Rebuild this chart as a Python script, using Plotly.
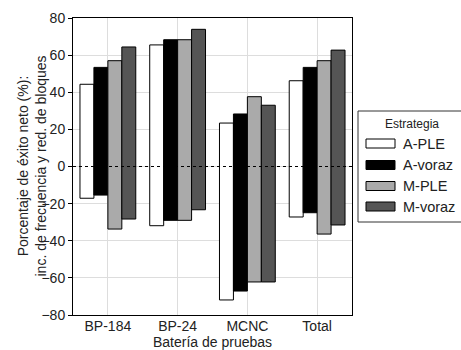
import plotly.graph_objects as go

# Benchmark suites and strategies
categories = ["BP-184", "BP-24", "MCNC", "Total"]
strategies = ["A-PLE", "A-voraz", "M-PLE", "M-voraz"]
colors = ["#ffffff", "#000000", "#aaaaaa", "#555555"]

# Upper (gain) and lower (loss) ends of each bar, in %
upper = {
    "A-PLE":   [44.3, 65.5, 23.4, 46.2],
    "A-voraz": [53.4, 68.3, 28.3, 53.4],
    "M-PLE":   [57.0, 68.3, 37.6, 57.0],
    "M-voraz": [64.4, 73.9, 33.0, 62.7],
}
lower = {
    "A-PLE":   [-17.1, -31.9, -71.9, -27.2],
    "A-voraz": [-15.4, -29.0, -67.1, -24.9],
    "M-PLE":   [-33.7, -29.0, -62.2, -36.4],
    "M-voraz": [-28.3, -23.3, -62.2, -31.5],
}

y_ticks = [-80, -60, -40, -20, 0, 20, 40, 60, 80]

FONT = "Liberation Sans, Arial, sans-serif"
TXT = "#222222"

fig = go.Figure()
for name, col in zip(strategies, colors):
    lo = lower[name]
    hi = upper[name]
    fig.add_trace(go.Bar(
        x=categories,
        y=[h - l for h, l in zip(hi, lo)],
        base=lo,
        name=name,
        marker=dict(color=col, line=dict(color="#000000", width=1)),
        showlegend=False,
    ))

W, H = 461, 350
L, R, T, B = 73, 352, 18, 315


def px(x):
    return (x - L) / (R - L)


def py(y):
    return (B - y) / (B - T)


# dotted zero line across the plot
fig.add_shape(type="line", xref="paper", yref="y", x0=0, x1=1, y0=0, y1=0,
              line=dict(color="#000000", width=1, dash="dot"), layer="above")

# axis titles
fig.add_annotation(xref="paper", yref="paper", x=px(31), y=py(166.5),
                   text="Porcentaje de éxito neto (%):<br>inc. de frecuencia y red. de bloques",
                   textangle=-90, showarrow=False,
                   font=dict(family=FONT, size=14, color=TXT),
                   xanchor="center", yanchor="middle")
fig.add_annotation(xref="paper", yref="paper", x=0.5, y=py(341.5),
                   text="Batería de pruebas", showarrow=False,
                   font=dict(family=FONT, size=14, color=TXT),
                   xanchor="center", yanchor="middle")

# legend frame
fig.add_shape(type="rect", xref="paper", yref="paper",
              x0=px(358), x1=px(470), y0=py(111), y1=py(222),
              line=dict(color="#333333", width=1), fillcolor="#ffffff")
fig.add_annotation(xref="paper", yref="paper", x=px(412), y=py(124),
                   text="Estrategia", showarrow=False,
                   font=dict(family=FONT, size=12, color=TXT),
                   xanchor="center", yanchor="middle")
rows = [143.5, 165, 186, 206.5]
for name, col, ry in zip(strategies, colors, rows):
    fig.add_shape(type="rect", xref="paper", yref="paper",
                  x0=px(366), x1=px(395), y0=py(ry + 4.5), y1=py(ry - 4.5),
                  line=dict(color="#000000", width=1), fillcolor=col)
    fig.add_annotation(xref="paper", yref="paper", x=px(401), y=py(ry),
                       text=name, showarrow=False,
                       font=dict(family=FONT, size=14.5, color=TXT),
                       xanchor="left", yanchor="middle")

fig.update_layout(
    width=W, height=H,
    margin=dict(l=L, r=W - R, t=T, b=H - B),
    paper_bgcolor="#ffffff", plot_bgcolor="#ffffff",
    barmode="group", bargap=0.2, bargroupgap=0,
    font=dict(family=FONT, size=14, color=TXT),
)
fig.update_xaxes(
    range=[-0.5, 3.5], automargin=False,
    showline=True, mirror=True, linecolor="#000000", linewidth=1,
    showgrid=True, gridcolor="#dddddd", gridwidth=1,
    ticks="", tickfont=dict(size=14), ticklabelstandoff=-2,
)
fig.update_yaxes(
    range=[-80, 80], tickvals=y_ticks, automargin=False,
    showline=True, mirror=True, linecolor="#000000", linewidth=1,
    showgrid=True, gridcolor="#dddddd", gridwidth=1,
    zeroline=False,
    ticks="outside", ticklen=4, tickcolor="#000000",
    tickfont=dict(size=14),
)

fig.write_html("out.html")
